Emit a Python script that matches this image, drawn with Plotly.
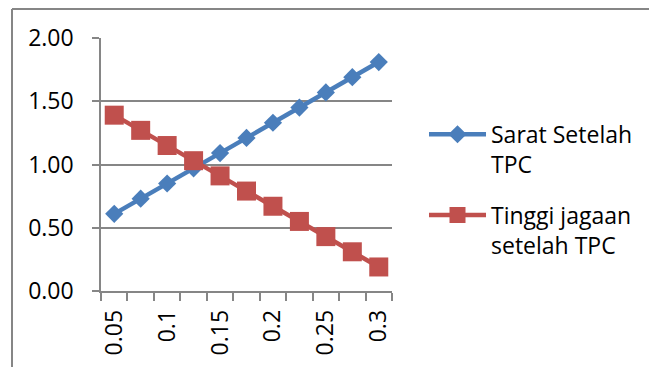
import plotly.graph_objects as go

# Data
x_vals = [0.05, 0.075, 0.1, 0.125, 0.15, 0.175, 0.2, 0.225, 0.25, 0.275, 0.3]
sarat_setelah_tpc = [0.61, 0.73, 0.85, 0.97, 1.09, 1.21, 1.33, 1.45, 1.57, 1.69, 1.81]
tinggi_jagaan_tpc = [1.39, 1.27, 1.15, 1.03, 0.91, 0.79, 0.67, 0.55, 0.43, 0.31, 0.19]
x_labels = ["0.05", "0.1", "0.15", "0.2", "0.25", "0.3"]
y_ticks = [0.0, 0.5, 1.0, 1.5, 2.0]

BLUE = "#4A7EBB"
RED = "#C0504D"
GRID = "#868686"
FONT = "Open Sans"
FS = 23

step = x_vals[1] - x_vals[0]
x_lo = x_vals[0] - step / 2
x_hi = x_vals[-1] + step / 2
boundaries = [x_lo + i * step for i in range(len(x_vals) + 1)]

fig = go.Figure()
fig.add_trace(go.Scatter(
    x=x_vals, y=sarat_setelah_tpc, name="Sarat Setelah<br>TPC",
    mode="lines+markers", legendgroup="a",
    line=dict(color=BLUE, width=4.5),
    marker=dict(symbol="diamond", size=14, color=BLUE),
))
fig.add_trace(go.Scatter(
    x=x_vals, y=tinggi_jagaan_tpc, name="Tinggi jagaan<br>setelah TPC",
    mode="lines+markers", legendgroup="b",
    line=dict(color=RED, width=4.5),
    marker=dict(symbol="square", size=19, color=RED),
))

fig.update_layout(
    width=649, height=367,
    margin=dict(l=101, r=257, t=38, b=76, autoexpand=False),
    paper_bgcolor="white", plot_bgcolor="white",
    font=dict(family=FONT, size=FS, color="black"),
    showlegend=True,
    legend=dict(
        x=1.11, y=0.40, xanchor="left", yanchor="middle",
        valign="top", tracegroupgap=18, itemwidth=57,
        font=dict(family=FONT, size=FS, color="black"),
        bgcolor="rgba(0,0,0,0)",
    ),
    xaxis=dict(
        range=[x_lo, x_hi], tickmode="array", automargin=False,
        tickvals=x_vals[::2], ticktext=x_labels, tickangle=-90,
        ticks="", ticklabelstandoff=8,
        minor=dict(tickmode="array", tickvals=boundaries, ticks="outside",
                   ticklen=8, tickwidth=1.5, tickcolor=GRID, showgrid=False),
        showline=True, linecolor=GRID, linewidth=1.5,
        showgrid=False, zeroline=False,
        tickfont=dict(family=FONT, size=FS, color="black"),
    ),
    yaxis=dict(
        range=[0, 2], tickmode="array", tickvals=y_ticks, automargin=False,
        tickformat=".2f", ticks="outside", ticklen=7, tickwidth=1.5,
        tickcolor=GRID, showline=True, linecolor=GRID, linewidth=1.5,
        showgrid=True, gridcolor=GRID, gridwidth=1.5, zeroline=False,
        ticklabelstandoff=14,
        tickfont=dict(family=FONT, size=FS, color="black"),
    ),
    shapes=[
        # outer chart frame (top and left edges visible)
        dict(type="line", xref="paper", yref="paper",
             x0=(12 - 101) / 291, x1=(700 - 101) / 291,
             y0=(291 - 9) / 253, y1=(291 - 9) / 253,
             line=dict(color=GRID, width=2)),
        dict(type="line", xref="paper", yref="paper",
             x0=(12 - 101) / 291, x1=(12 - 101) / 291,
             y0=(291 - 9) / 253, y1=(291 - 420) / 253,
             line=dict(color=GRID, width=2)),
    ],
)

fig.write_html("out.html")
